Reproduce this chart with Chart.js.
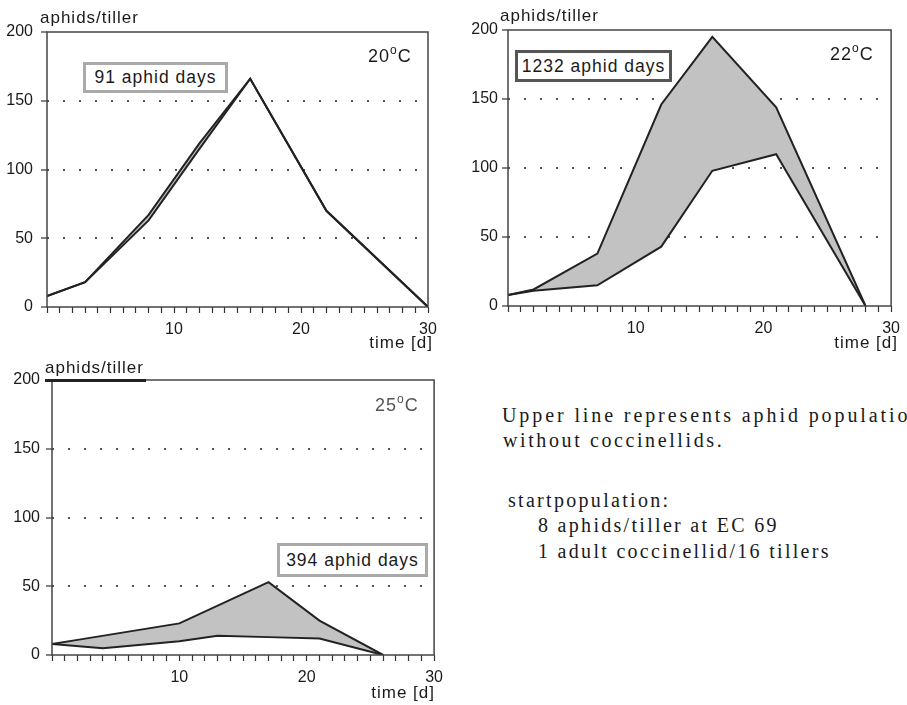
<!DOCTYPE html>
<html>
<head>
<meta charset="utf-8">
<script src="https://cdn.jsdelivr.net/npm/chart.js@4.4.1/dist/chart.umd.min.js"></script>
<style>
  body { margin: 0; width: 907px; height: 705px; overflow: hidden; background: #fff; position: relative;
         font-family: "Liberation Sans", Arial, sans-serif; color: #1a1a1a; }
  canvas { position: absolute; }
  .lbl { position: absolute; font-size: 17px; line-height: 17px; letter-spacing: 1px; white-space: nowrap; }
  .temp { position: absolute; font-size: 18px; line-height: 18px; letter-spacing: 1px; white-space: nowrap; }
  .temp sup { font-size: 12px; line-height: 0; vertical-align: 8px; }
  .box { position: absolute; box-sizing: border-box; display: flex; align-items: center; justify-content: center;
         font-size: 17.5px; letter-spacing: 1px; white-space: nowrap; background: #fff; }
  .note { position: absolute; font-family: "Liberation Serif", "Times New Roman", serif; font-size: 20px;
          line-height: 20px; letter-spacing: 2.3px; white-space: nowrap; color: #1a1a1a; }
</style>
</head>
<body>
<canvas id="c20" width="450" height="345" style="left:0;top:0"></canvas>
<canvas id="c22" width="457" height="345" style="left:450px;top:0"></canvas>
<canvas id="c25" width="450" height="360" style="left:0;top:345px"></canvas>

<div class="lbl" style="left:40px;top:9px">aphids/tiller</div>
<div class="lbl" style="left:500px;top:7px">aphids/tiller</div>
<div class="lbl" style="left:45px;top:359px">aphids/tiller</div>
<div style="position:absolute;left:45px;top:379px;width:101px;height:3px;background:#222"></div>

<div class="temp" style="left:368px;top:47px">20<sup>o</sup>C</div>
<div class="temp" style="left:830px;top:45px">22<sup>o</sup>C</div>
<div class="temp" style="left:375px;top:396px;color:#555">25<sup>o</sup>C</div>

<div class="box" style="left:83px;top:62px;width:145px;height:31px;border:3px solid #aaa">91 aphid days</div>
<div class="box" style="left:515px;top:50px;width:157px;height:32px;border:3px solid #555">1232 aphid days</div>
<div class="box" style="left:277px;top:543px;width:151px;height:34px;border:3px solid #aaa">394 aphid days</div>

<div class="lbl" style="right:474px;top:334px">time [d]</div>
<div class="lbl" style="right:9px;top:334px">time [d]</div>
<div class="lbl" style="right:472px;top:684px">time [d]</div>

<div class="note" style="left:502px;top:405px;letter-spacing:2.9px">Upper line represents aphid population</div>
<div class="note" style="left:503px;top:430px;letter-spacing:2.6px">without coccinellids.</div>
<div class="note" style="left:508px;top:490px">startpopulation:</div>
<div class="note" style="left:538px;top:515px">8 aphids/tiller at EC 69</div>
<div class="note" style="left:538px;top:541px">1 adult coccinellid/16 tillers</div>

<script>
// 20 °C
const days20 = [0, 3, 8, 12, 16, 22, 30];
const upper20 = [8, 18, 67, 119, 166, 70, 0];
const lower20 = [8, 18, 63, 115, 166, 70, 0];

// 22 °C
const days22 = [0, 2, 7, 12, 16, 21, 28];
const upper22 = [8, 12, 38, 146, 195, 144, 0];
const lower22 = [8, 11, 15, 43, 98, 110, 0];

// 25 °C
const daysUpper25 = [0, 2, 10, 17, 21, 26];
const upper25 = [8, 11, 23, 53, 25, 0];
const daysLower25 = [0, 4, 10, 13, 17, 21, 26];
const lower25 = [8, 5, 10, 14, 13, 12, 0];

const yTicks = [0, 50, 100, 150, 200];
const xLabels = [10, 20, 30];

const fontFamily = '"Liberation Sans", Arial, sans-serif';

const toPoints = (xs, ys) => xs.map((x, i) => ({ x: x, y: ys[i] }));

// box around the plot area
const framePlugin = {
  id: 'frame',
  afterDraw(chart) {
    const { ctx, chartArea: a } = chart;
    ctx.save();
    ctx.strokeStyle = '#444';
    ctx.lineWidth = 1.5;
    ctx.strokeRect(a.left, a.top, a.right - a.left, a.bottom - a.top);
    ctx.restore();
  }
};

const makePanel = (id, upperPts, lowerPts, opt) => {
  new Chart(document.getElementById(id), {
    type: 'line',
    data: {
      datasets: [
        { data: upperPts, borderColor: '#222', borderWidth: 2, backgroundColor: '#c2c2c2', fill: '+1' },
        { data: lowerPts, borderColor: '#222', borderWidth: 2, fill: false }
      ]
    },
    plugins: [framePlugin],
    options: {
      responsive: false,
      animation: false,
      layout: { padding: { top: opt.top, right: opt.right, left: 0, bottom: 0 } },
      plugins: {
        legend: { display: false },
        tooltip: { enabled: false },
        filler: { drawTime: 'beforeDatasetsDraw' }
      },
      elements: { point: { radius: 0 }, line: { tension: 0 } },
      scales: {
        x: {
          type: 'linear', min: 0, max: 30,
          afterFit: s => { s.height = opt.xHeight; },
          border: { display: false },
          grid: { drawOnChartArea: false, tickLength: 6, tickColor: '#333', tickWidth: 1.2 },
          ticks: {
            stepSize: 1, autoSkip: false, maxRotation: 0, padding: 7, color: '#1a1a1a',
            font: { family: fontFamily, size: 16 },
            callback: v => xLabels.includes(v) ? v : ''
          }
        },
        y: {
          min: 0, max: 200,
          afterFit: s => { s.width = opt.yWidth; },
          afterBuildTicks: s => { s.ticks = yTicks.map(v => ({ value: v })); },
          border: { display: false, dash: [2, 14] },
          grid: {
            color: c => (c.tick && (c.tick.value === 0 || c.tick.value === 200)) ? 'rgba(0,0,0,0)' : '#555',
            lineWidth: 2, tickLength: 6, tickColor: '#333', tickWidth: 1.2
          },
          ticks: { padding: opt.yPad, color: '#1a1a1a', font: { family: fontFamily, size: 16 } }
        }
      }
    }
  });
};

makePanel('c20', toPoints(days20, upper20), toPoints(days20, lower20),
  { top: 32, right: 22, xHeight: 38, yWidth: 47, yPad: 8 });
makePanel('c22', toPoints(days22, upper22), toPoints(days22, lower22),
  { top: 30, right: 15, xHeight: 39, yWidth: 58, yPad: 4 });
makePanel('c25', toPoints(daysUpper25, upper25), toPoints(daysLower25, lower25),
  { top: 35, right: 15, xHeight: 50, yWidth: 52, yPad: 6 });
</script>
</body>
</html>
